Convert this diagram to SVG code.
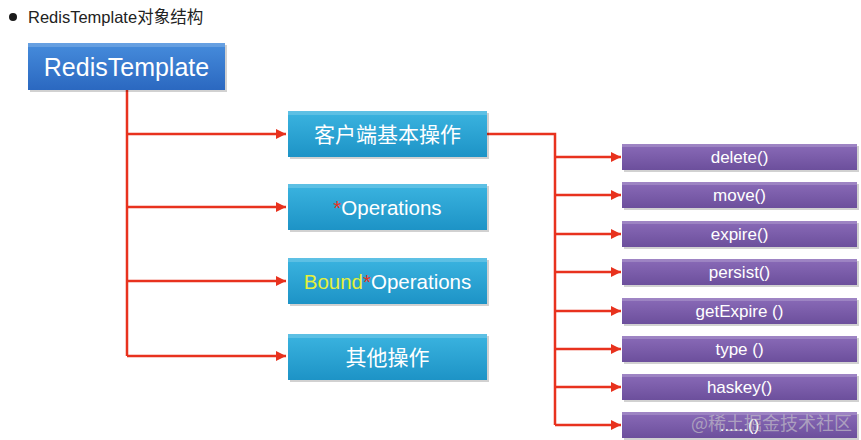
<svg xmlns="http://www.w3.org/2000/svg" width="861" height="440" viewBox="0 0 861 440">
<defs>
<linearGradient id="gBlue" x1="0" y1="0" x2="0" y2="1">
<stop offset="0" stop-color="#468cdc"/><stop offset="1" stop-color="#2b68c0"/>
</linearGradient>
<linearGradient id="gCyan" x1="0" y1="0" x2="0" y2="1">
<stop offset="0" stop-color="#3bb4e0"/><stop offset="1" stop-color="#1d93c6"/>
</linearGradient>
<linearGradient id="gPurple" x1="0" y1="0" x2="0" y2="1">
<stop offset="0" stop-color="#8a6bb8"/><stop offset="1" stop-color="#6c4f9c"/>
</linearGradient>
<marker id="arr" viewBox="0 0 10 10" refX="10" refY="5" markerWidth="4" markerHeight="4" orient="auto" markerUnits="strokeWidth">
<path d="M0,0 L10,5 L0,10 z" fill="#e8321e"/>
</marker>
</defs>
<style>
.t{font-family:"Liberation Sans","Noto Sans CJK SC",sans-serif;fill:#ffffff;text-anchor:middle}
.ln{fill:none;stroke:#e8321e;stroke-width:2.5}
.sh{fill:#000;opacity:0.18}
.hl{fill:#fff;opacity:0.18}
</style>
<rect width="861" height="440" fill="#ffffff"/>
<circle cx="13" cy="17" r="4" fill="#1a1a1a"/>
<text x="28" y="23" font-family="Liberation Sans,'Noto Sans CJK SC',sans-serif" font-size="16.5" fill="#222">RedisTemplate对象结构</text>

<g id="connectors">
<polyline class="ln" points="127,90 127,356"/>
<line class="ln" x1="127" y1="134" x2="286" y2="134" marker-end="url(#arr)"/>
<line class="ln" x1="127" y1="207" x2="286" y2="207" marker-end="url(#arr)"/>
<line class="ln" x1="127" y1="281" x2="286" y2="281" marker-end="url(#arr)"/>
<line class="ln" x1="127" y1="356" x2="286" y2="356" marker-end="url(#arr)"/>
<polyline class="ln" points="487,134 555,134 555,425"/>
<line class="ln" x1="555" y1="157" x2="621" y2="157" marker-end="url(#arr)"/>
<line class="ln" x1="555" y1="195" x2="621" y2="195" marker-end="url(#arr)"/>
<line class="ln" x1="555" y1="234" x2="621" y2="234" marker-end="url(#arr)"/>
<line class="ln" x1="555" y1="272" x2="621" y2="272" marker-end="url(#arr)"/>
<line class="ln" x1="555" y1="311" x2="621" y2="311" marker-end="url(#arr)"/>
<line class="ln" x1="555" y1="349" x2="621" y2="349" marker-end="url(#arr)"/>
<line class="ln" x1="555" y1="387" x2="621" y2="387" marker-end="url(#arr)"/>
<line class="ln" x1="555" y1="425" x2="621" y2="425" marker-end="url(#arr)"/>
</g>

<g id="redisTemplate">
<rect class="sh" x="30" y="45" width="197" height="47"/>
<rect x="28" y="43" width="197" height="47" fill="url(#gBlue)"/>
<rect class="hl" x="28" y="43" width="197" height="4"/>
<text class="t" x="126.5" y="75.5" font-size="25">RedisTemplate</text>
</g>

<g id="client">
<rect class="sh" x="290" y="113" width="199" height="46"/>
<rect x="288" y="111" width="199" height="46" fill="url(#gCyan)"/>
<rect class="hl" x="288" y="111" width="199" height="4"/>
<text class="t" x="387.5" y="142" font-size="21">客户端基本操作</text>
</g>
<g id="operations">
<rect class="sh" x="290" y="186" width="199" height="46"/>
<rect x="288" y="184" width="199" height="46" fill="url(#gCyan)"/>
<rect class="hl" x="288" y="184" width="199" height="4"/>
<text class="t" x="387.5" y="214.5" font-size="20.5"><tspan fill="#e8321e">*</tspan>Operations</text>
</g>
<g id="boundOperations">
<rect class="sh" x="290" y="260" width="199" height="46"/>
<rect x="288" y="258" width="199" height="46" fill="url(#gCyan)"/>
<rect class="hl" x="288" y="258" width="199" height="4"/>
<text class="t" x="387.5" y="288.5" font-size="20.5"><tspan fill="#e6f03a">Bound</tspan><tspan fill="#e8321e">*</tspan>Operations</text>
</g>
<g id="others">
<rect class="sh" x="290" y="336" width="199" height="46"/>
<rect x="288" y="334" width="199" height="46" fill="url(#gCyan)"/>
<rect class="hl" x="288" y="334" width="199" height="4"/>
<text class="t" x="387.5" y="365" font-size="21">其他操作</text>
</g>

<g id="delete">
<rect class="sh" x="624" y="146" width="235" height="26"/>
<rect x="622" y="144" width="235" height="26" fill="url(#gPurple)"/>
<rect class="hl" x="622" y="144" width="235" height="3"/>
<text class="t" x="739.5" y="163" font-size="17">delete()</text>
</g>
<g id="move">
<rect class="sh" x="624" y="184" width="235" height="26"/>
<rect x="622" y="182" width="235" height="26" fill="url(#gPurple)"/>
<rect class="hl" x="622" y="182" width="235" height="3"/>
<text class="t" x="739.5" y="201" font-size="17">move()</text>
</g>
<g id="expire">
<rect class="sh" x="624" y="223" width="235" height="26"/>
<rect x="622" y="221" width="235" height="26" fill="url(#gPurple)"/>
<rect class="hl" x="622" y="221" width="235" height="3"/>
<text class="t" x="739.5" y="240" font-size="17">expire()</text>
</g>
<g id="persist">
<rect class="sh" x="624" y="261" width="235" height="26"/>
<rect x="622" y="259" width="235" height="26" fill="url(#gPurple)"/>
<rect class="hl" x="622" y="259" width="235" height="3"/>
<text class="t" x="739.5" y="278" font-size="17">persist()</text>
</g>
<g id="getExpire">
<rect class="sh" x="624" y="300" width="235" height="26"/>
<rect x="622" y="298" width="235" height="26" fill="url(#gPurple)"/>
<rect class="hl" x="622" y="298" width="235" height="3"/>
<text class="t" x="739.5" y="317" font-size="17">getExpire ()</text>
</g>
<g id="type">
<rect class="sh" x="624" y="338" width="235" height="26"/>
<rect x="622" y="336" width="235" height="26" fill="url(#gPurple)"/>
<rect class="hl" x="622" y="336" width="235" height="3"/>
<text class="t" x="739.5" y="355" font-size="17">type ()</text>
</g>
<g id="haskey">
<rect class="sh" x="624" y="376" width="235" height="26"/>
<rect x="622" y="374" width="235" height="26" fill="url(#gPurple)"/>
<rect class="hl" x="622" y="374" width="235" height="3"/>
<text class="t" x="739.5" y="393" font-size="17">haskey()</text>
</g>
<g id="more">
<rect class="sh" x="624" y="414" width="235" height="26"/>
<rect x="622" y="412" width="235" height="26" fill="url(#gPurple)"/>
<rect class="hl" x="622" y="412" width="235" height="3"/>
<text class="t" x="739.5" y="431" font-size="17">......()</text>
</g>
<text x="852" y="430" font-family="'Noto Sans CJK SC',sans-serif" font-size="18" fill="#cccccc" fill-opacity="0.6" text-anchor="end">@稀土掘金技术社区</text>
</svg>
